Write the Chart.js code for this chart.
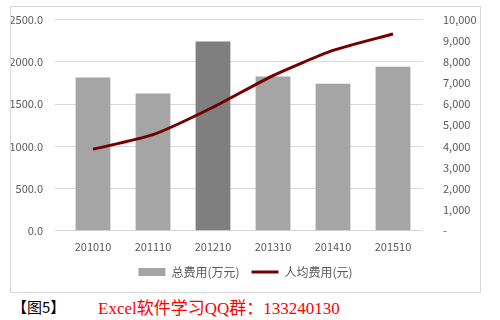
<!DOCTYPE html>
<html>
<head>
<meta charset="utf-8">
<script src="https://cdn.jsdelivr.net/npm/chart.js@4/dist/chart.umd.min.js"></script>
<style>
  body { margin: 0; background: #fff; width: 500px; height: 320px; position: relative; overflow: hidden; }
  #box { position: absolute; left: 10px; top: 6px; width: 471px; height: 287px; border: 1px solid #d9d9d9; box-sizing: border-box; }
  #feeChart { position: absolute; left: 11px; top: 1px; display: block; }
  .fig { position: absolute; left: 12px; top: 296px; font: 15px "Noto Sans CJK SC", sans-serif; color: #000; }
  .qq { position: absolute; left: 98px; top: 294px; font: 17px "Liberation Serif", "Noto Sans CJK SC", serif; color: #ff0000; }
</style>
</head>
<body>
<div id="box"></div>
<canvas id="feeChart" width="469" height="287"></canvas>
<div class="fig">【图5】</div>
<div class="qq">Excel软件学习QQ群：133240130</div>
<script>
var categories = ['201010', '201110', '201210', '201310', '201410', '201510'];
var totalCost = [1815, 1625, 2240, 1825, 1742, 1943];
var perCapita = [3860, 4550, 5850, 7350, 8540, 9320];
var barColors = ['#a5a5a5', '#a5a5a5', '#7f7f7f', '#a5a5a5', '#a5a5a5', '#a5a5a5'];

document.addEventListener('DOMContentLoaded', function() {
    var ctx = document.getElementById('feeChart').getContext('2d');
    var tickFont = { family: '"Noto Sans CJK SC", sans-serif', size: 11 };
    new Chart(ctx, {
        type: 'bar',
        data: {
            labels: categories,
            datasets: [{
                label: '总费用(万元)',
                data: totalCost,
                backgroundColor: barColors,
                borderWidth: 0,
                categoryPercentage: 1,
                barPercentage: 0.58,
                pointStyle: 'rect',
                yAxisID: 'y',
                order: 2
            }, {
                type: 'line',
                label: '人均费用(元)',
                data: perCapita,
                borderColor: '#730000',
                backgroundColor: '#730000',
                borderWidth: 3,
                tension: 0.2,
                pointRadius: 0,
                pointStyle: 'line',
                yAxisID: 'y1',
                order: 1
            }]
        },
        options: {
            responsive: false,
            animation: false,
            layout: { padding: { top: 3, bottom: 0 } },
            plugins: {
                tooltip: { enabled: false },
                legend: {
                    position: 'bottom',
                    labels: {
                        color: '#595959',
                        font: { family: '"Noto Sans CJK SC", sans-serif', size: 12 },
                        usePointStyle: true,
                        pointStyleWidth: 27,
                        boxHeight: 8,
                        padding: 12,
                        sort: function(a, b) { return a.datasetIndex - b.datasetIndex; }
                    }
                }
            },
            scales: {
                x: {
                    grid: { display: false },
                    border: { display: false },
                    ticks: { color: '#595959', font: tickFont, maxRotation: 0, padding: 1 }
                },
                y: {
                    position: 'left',
                    min: 0,
                    max: 2500,
                    grid: { color: '#d9d9d9' },
                    border: { display: false },
                    ticks: {
                        stepSize: 500,
                        color: '#595959',
                        font: tickFont,
                        padding: 12,
                        callback: function(v) { return v.toFixed(1); }
                    },
                    afterFit: function(scale) { scale.width = 52; }
                },
                y1: {
                    position: 'right',
                    min: 0,
                    max: 10000,
                    grid: { display: false },
                    border: { display: false },
                    ticks: {
                        stepSize: 1000,
                        color: '#595959',
                        font: tickFont,
                        padding: 12,
                        callback: function(v) { return v === 0 ? '-' : v.toLocaleString('en-US'); }
                    },
                    afterFit: function(scale) { scale.width = 57; }
                }
            }
        }
    });
});
</script>
</body>
</html>
